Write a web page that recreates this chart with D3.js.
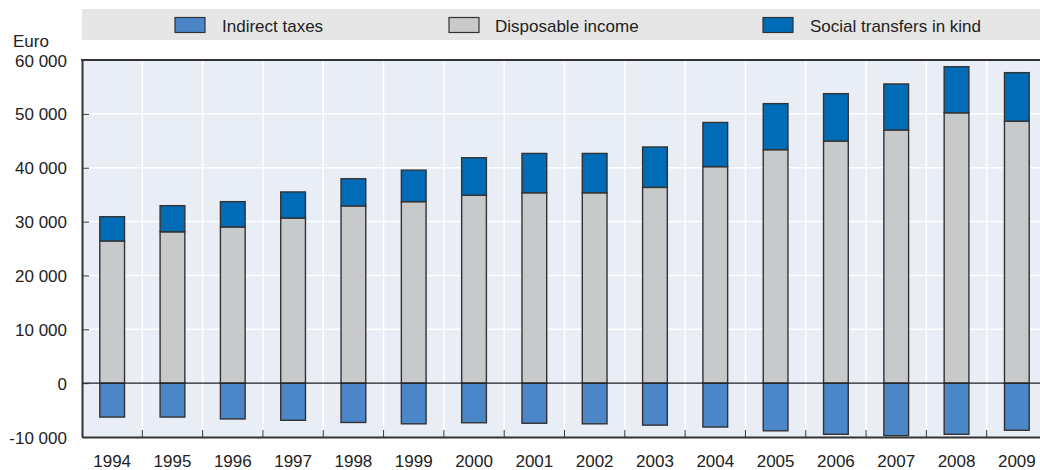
<!DOCTYPE html>
<html>
<head>
<meta charset="utf-8">
<script src="https://cdn.jsdelivr.net/npm/d3@7/dist/d3.min.js"></script>
<style>
  html, body { margin: 0; padding: 0; background: #ffffff; }
  svg { display: block; }
  text { font-family: "Liberation Sans", Arial, sans-serif; fill: #222; }
</style>
</head>
<body>
<svg id="chart" width="1040" height="470"></svg>
<script>
// ---- Data ----
const years = ["1994","1995","1996","1997","1998","1999","2000","2001","2002","2003","2004","2005","2006","2007","2008","2009"];
const disposableIncome = [26400, 28100, 29000, 30650, 32900, 33700, 34900, 35350, 35350, 36350, 40200, 43350, 44950, 47000, 50200, 48650];
const socialTransfers  = [4500, 4850, 4700, 4850, 5050, 5850, 6950, 7300, 7300, 7500, 8200, 8550, 8800, 8550, 8550, 9000];
const indirectTaxes    = [-6300, -6300, -6650, -6900, -7300, -7550, -7350, -7450, -7550, -7800, -8150, -8850, -9500, -9750, -9500, -8750];
const seriesNames = ["Indirect taxes", "Disposable income", "Social transfers in kind"];
const seriesColors = ["#4a86c8", "#c8c9cb", "#006bb6"];
const yTicks = [-10000, 0, 10000, 20000, 30000, 40000, 50000, 60000];
const yLabel = "Euro";

(function () {
const FONT = "'Liberation Sans',Arial,sans-serif";
const FS = 17;
const svg = d3.select("#chart");
const pL = 82, pR = 1047, pT = 60, pB = 437;

const x = d3.scaleBand().domain(years).range([pL, pR]).paddingInner(0.59).paddingOuter(0.295);
const xCell = d3.scaleBand().domain(years).range([pL, pR]).padding(0);
const y = d3.scaleLinear().domain([-10000, 60000]).range([pB, pT]);

const locale = d3.formatLocale({decimal: ".", thousands: " ", grouping: [3], currency: ["", ""], minus: "-"});
const fmt = locale.format(",");

// plot background
svg.append("rect").attr("x", pL).attr("y", pT).attr("width", pR - pL).attr("height", pB - pT).attr("fill", "#e9edf6");

// gridlines
const grid = svg.append("g");
grid.selectAll("line.h").data(yTicks.filter(d => d !== 0 && d !== -10000 && d !== 60000)).join("line")
  .attr("x1", pL).attr("x2", pR).attr("y1", d => y(d)).attr("y2", d => y(d))
  .attr("stroke", "#ffffff").attr("stroke-width", 1.5);
grid.selectAll("line.v").data(years.slice(1)).join("line")
  .attr("x1", d => xCell(d)).attr("x2", d => xCell(d)).attr("y1", pT).attr("y2", pB)
  .attr("stroke", "#ffffff").attr("stroke-width", 1.5);

// bars
const rows = years.map((yr, i) => ({yr, d: disposableIncome[i], s: socialTransfers[i], t: indirectTaxes[i]}));
const bars = svg.append("g").attr("stroke", "#333").attr("stroke-width", 1.4);
bars.selectAll("rect.tax").data(rows).join("rect")
  .attr("x", r => x(r.yr)).attr("width", x.bandwidth())
  .attr("y", r => y(0)).attr("height", r => y(r.t) - y(0))
  .attr("fill", seriesColors[0]);
bars.selectAll("rect.disp").data(rows).join("rect")
  .attr("x", r => x(r.yr)).attr("width", x.bandwidth())
  .attr("y", r => y(r.d)).attr("height", r => y(0) - y(r.d))
  .attr("fill", seriesColors[1]);
bars.selectAll("rect.soc").data(rows).join("rect")
  .attr("x", r => x(r.yr)).attr("width", x.bandwidth())
  .attr("y", r => y(r.d + r.s)).attr("height", r => y(r.d) - y(r.d + r.s))
  .attr("fill", seriesColors[2]);

// zero line
svg.append("line").attr("x1", pL).attr("x2", pR).attr("y1", y(0)).attr("y2", y(0))
  .attr("stroke", "#222").attr("stroke-width", 1.3);

// top border
svg.append("line").attr("x1", pL - 1).attr("x2", pR).attr("y1", pT).attr("y2", pT)
  .attr("stroke", "#333").attr("stroke-width", 2);

// y axis
const yAxis = svg.append("g").attr("transform", `translate(${pL},0)`)
  .call(d3.axisLeft(y).tickValues(yTicks).tickFormat(fmt).tickSizeInner(-7).tickSizeOuter(0).tickPadding(15));
yAxis.select(".domain").attr("stroke", "#333").attr("stroke-width", 2);
yAxis.selectAll(".tick line").attr("stroke", "#333").attr("stroke-width", 1);
yAxis.selectAll(".tick text").attr("font-size", FS).attr("fill", "#222")
  .attr("dy", "0.36em").style("font-family", FONT);

// x axis
const xAxis = svg.append("g").attr("transform", `translate(0,${pB})`)
  .call(d3.axisBottom(x).tickSize(0).tickPadding(17.5));
xAxis.select(".domain").attr("stroke", "#333").attr("stroke-width", 2);
xAxis.selectAll(".tick text").attr("font-size", FS).attr("fill", "#222")
  .style("font-family", FONT);
svg.append("g").selectAll("line").data(years.slice(1)).join("line")
  .attr("x1", d => xCell(d)).attr("x2", d => xCell(d)).attr("y1", pB - 7).attr("y2", pB)
  .attr("stroke", "#333").attr("stroke-width", 1);

// y label
svg.append("text").attr("x", 13).attr("y", 47).attr("font-size", FS).text(yLabel);

// legend
svg.append("rect").attr("x", 82).attr("y", 9).attr("width", 1040 - 82).attr("height", 31).attr("fill", "#e6e6e6");
const legendX = [175, 449, 763];
const lg = svg.append("g").selectAll("g").data(seriesNames).join("g")
  .attr("transform", (d, i) => `translate(${legendX[i]},0)`);
lg.append("rect").attr("x", 0).attr("y", 17.5).attr("width", 30).attr("height", 15)
  .attr("fill", (d, i) => seriesColors[i]).attr("stroke", "#333").attr("stroke-width", 1.2);
lg.append("text").attr("x", (d, i) => [47, 46, 47][i]).attr("y", 32).attr("font-size", FS).text(d => d);
})();
</script>
</body>
</html>
